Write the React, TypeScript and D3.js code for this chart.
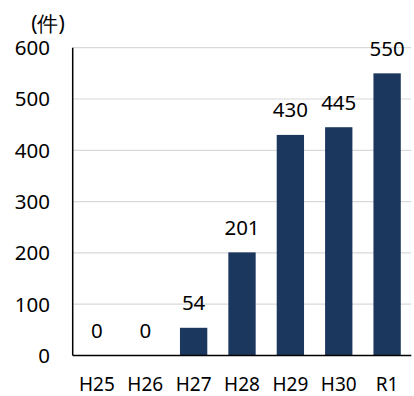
import React from "react";
import * as d3 from "d3";

const categories = ["H25", "H26", "H27", "H28", "H29", "H30", "R1"];
const counts = [0, 0, 54, 201, 430, 445, 550];
const yTicks = [0, 100, 200, 300, 400, 500, 600];
const unitLabel = "(件)";

const W = 414;
const H = 396;
const FONT = "'Noto Sans', 'DejaVu Sans', sans-serif";

export default function App() {
  const left = 72.7;
  const right = 411.3;
  const top = 47.7;
  const bottom = 355.5;

  const x = d3.scaleBand<string>().domain(categories).range([left, right]).paddingInner(0.435).paddingOuter(0.2175);
  const y = d3.scaleLinear().domain([0, 600]).range([bottom, top]);

  return (
    <svg
      width={W}
      height={H}
      style={{ position: "absolute", left: 0, top: 0, background: "#fff" }}
      fontFamily={FONT}
    >
      {yTicks.map((t) => (
        <g key={t}>
          {t > 0 && (
            <line x1={left} x2={right} y1={y(t)} y2={y(t)} stroke="#d9d9d9" strokeWidth={1.2} />
          )}
          <text x={50} y={y(t)} dy="0.36em" textAnchor="end" fontSize={20.5} fill="#000">
            {t}
          </text>
        </g>
      ))}
      <text x={48} y={31} textAnchor="middle" fontSize={21} fill="#000">
        {unitLabel}
      </text>

      {categories.map((c, i) => {
        const v = counts[i];
        const bx = x(c)!;
        const cx = bx + x.bandwidth() / 2;
        return (
          <g key={c}>
            {v > 0 && (
              <rect x={bx} y={y(v)} width={x.bandwidth()} height={bottom - y(v)} fill="#1b375e" />
            )}
            <text x={cx} y={y(v) - 17.5} textAnchor="middle" fontSize={20.5} fill="#000">
              {v}
            </text>
            <text x={cx} y={391} textAnchor="middle" fontSize={19} fill="#000">
              {c}
            </text>
          </g>
        );
      })}

      <line x1={left} x2={left} y1={top} y2={bottom} stroke="#000" strokeWidth={1.5} />
      <line x1={left} x2={right} y1={bottom} y2={bottom} stroke="#000" strokeWidth={1.5} />
    </svg>
  );
}
